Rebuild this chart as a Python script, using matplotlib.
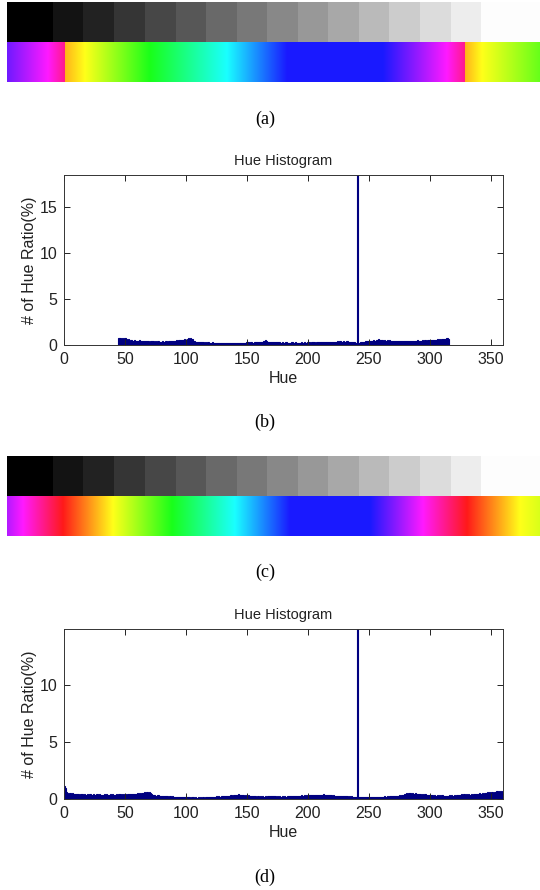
import numpy as np
import matplotlib
matplotlib.use("Agg")
import matplotlib.pyplot as plt
from matplotlib.colors import hsv_to_rgb

W, H = 540, 890

# grey wedge: 16 levels and the block edges (in pixels along the strip)
gray_levels = [0, 19, 34, 53, 71, 87, 105, 120, 136, 152, 168, 186, 204, 220, 237, 253]
gray_edges = [7, 53, 83, 114, 145, 176, 206, 237, 267, 298, 328, 359, 389, 420, 451, 481, 540]

# hue strips: anchor positions (pixels) and hue in degrees
hue_a_x = [7, 48, 64.9, 65, 85, 150, 227, 287, 383, 447, 464.9, 465, 482, 540]
hue_a_deg = [262, 300, 330, 40, 60, 120, 180, 240, 240, 300, 330, 40, 60, 100]
hue_c_x = [7, 23, 63, 113, 172, 235, 290, 370, 423, 467, 520, 540]
hue_c_deg = [280, 300, 360, 420, 480, 540, 600, 600, 660, 720, 780, 790]

# hue histogram (b): bins 45..315 degrees, % of pixels
hist_b_start = 45
hist_b = [
    0.72, 0.80, 0.68, 0.75, 0.62, 0.78, 0.70, 0.55, 0.66, 0.48,
    0.50, 0.44, 0.47, 0.52, 0.42, 0.46, 0.45, 0.49, 0.41, 0.44,
    0.47, 0.43, 0.40, 0.45, 0.42, 0.38, 0.41, 0.44, 0.40, 0.37,
    0.39, 0.36, 0.40, 0.38, 0.35, 0.37, 0.41, 0.36, 0.39, 0.42,
    0.38, 0.44, 0.40, 0.46, 0.43, 0.48, 0.45, 0.50, 0.47, 0.52,
    0.55, 0.50, 0.58, 0.54, 0.62, 0.57, 0.66, 0.72, 0.64, 0.78,
    0.60, 0.45, 0.40, 0.36, 0.33, 0.38, 0.30, 0.32, 0.28, 0.31,
    0.27, 0.30, 0.26, 0.29, 0.25, 0.27, 0.24, 0.28, 0.26, 0.23,
    0.25, 0.27, 0.24, 0.22, 0.26, 0.23, 0.25, 0.21, 0.24, 0.22,
    0.20, 0.23, 0.21, 0.19, 0.22, 0.24, 0.20, 0.23, 0.21, 0.25,
    0.22, 0.26, 0.23, 0.27, 0.24, 0.28, 0.30, 0.26, 0.29, 0.31,
    0.27, 0.30, 0.28, 0.32, 0.29, 0.33, 0.35, 0.30, 0.38, 0.44,
    0.52, 0.40, 0.36, 0.33, 0.37, 0.31, 0.34, 0.30, 0.32, 0.29,
    0.31, 0.28, 0.30, 0.26, 0.29, 0.27, 0.25, 0.28, 0.26, 0.24,
    0.27, 0.25, 0.28, 0.24, 0.26, 0.29, 0.25, 0.27, 0.23, 0.26,
    0.28, 0.25, 0.30, 0.27, 0.24, 0.29, 0.31, 0.26, 0.28, 0.32,
    0.29, 0.27, 0.31, 0.34, 0.28, 0.30, 0.33, 0.29, 0.32, 0.35,
    0.31, 0.34, 0.30, 0.36, 0.33, 0.37, 0.34, 0.38, 0.35, 0.40,
    0.36, 0.39, 0.42, 0.37, 0.41, 0.38, 0.35, 0.39, 0.33, 0.36,
    0.30, 0.34, 0.28, 0.31, 0.25, 0.22, 18.5, 0.20, 0.28, 0.34,
    0.38, 0.35, 0.42, 0.39, 0.45, 0.41, 0.44, 0.40, 0.47, 0.50,
    0.46, 0.52, 0.58, 0.65, 0.55, 0.50, 0.53, 0.48, 0.51, 0.47,
    0.50, 0.46, 0.49, 0.45, 0.48, 0.44, 0.47, 0.43, 0.46, 0.42,
    0.45, 0.41, 0.44, 0.40, 0.43, 0.46, 0.42, 0.45, 0.41, 0.44,
    0.47, 0.43, 0.46, 0.42, 0.45, 0.49, 0.44, 0.48, 0.45, 0.50,
    0.46, 0.51, 0.48, 0.53, 0.49, 0.55, 0.51, 0.57, 0.53, 0.58,
    0.55, 0.60, 0.56, 0.62, 0.58, 0.64, 0.60, 0.70, 0.66, 0.75,
    0.68,
]

# hue histogram (d): bins 0..359 degrees, % of pixels
hist_d_start = 0
hist_d = [
    1.10, 0.95, 0.62, 0.55, 0.48, 0.52, 0.45, 0.50, 0.42, 0.47,
    0.44, 0.40, 0.46, 0.38, 0.43, 0.41, 0.37, 0.45, 0.39, 0.42,
    0.38, 0.44, 0.40, 0.36, 0.42, 0.39, 0.35, 0.41, 0.37, 0.40,
    0.36, 0.39, 0.34, 0.40, 0.37, 0.42, 0.38, 0.35, 0.41, 0.37,
    0.44, 0.39, 0.36, 0.42, 0.38, 0.45, 0.40, 0.37, 0.43, 0.39,
    0.41, 0.38, 0.44, 0.40, 0.46, 0.42, 0.48, 0.44, 0.47, 0.43,
    0.50, 0.46, 0.52, 0.48, 0.55, 0.51, 0.58, 0.54, 0.62, 0.56,
    0.60, 0.52, 0.45, 0.38, 0.34, 0.30, 0.28, 0.31, 0.26, 0.29,
    0.25, 0.27, 0.23, 0.26, 0.22, 0.24, 0.21, 0.23, 0.20, 0.22,
    0.19, 0.21, 0.18, 0.20, 0.17, 0.19, 0.16, 0.18, 0.17, 0.15,
    0.16, 0.14, 0.17, 0.15, 0.13, 0.16, 0.14, 0.12, 0.15, 0.13,
    0.14, 0.12, 0.15, 0.13, 0.14, 0.12, 0.16, 0.14, 0.18, 0.15,
    0.17, 0.19, 0.16, 0.20, 0.18, 0.22, 0.19, 0.23, 0.21, 0.25,
    0.22, 0.26, 0.24, 0.28, 0.25, 0.30, 0.27, 0.32, 0.29, 0.35,
    0.31, 0.38, 0.33, 0.40, 0.35, 0.37, 0.32, 0.36, 0.30, 0.33,
    0.28, 0.31, 0.26, 0.29, 0.24, 0.27, 0.22, 0.25, 0.21, 0.24,
    0.20, 0.23, 0.19, 0.22, 0.20, 0.24, 0.21, 0.25, 0.22, 0.26,
    0.23, 0.27, 0.22, 0.25, 0.21, 0.24, 0.20, 0.23, 0.19, 0.22,
    0.20, 0.24, 0.21, 0.25, 0.22, 0.26, 0.23, 0.27, 0.24, 0.28,
    0.25, 0.29, 0.26, 0.30, 0.27, 0.31, 0.28, 0.32, 0.29, 0.33,
    0.30, 0.34, 0.31, 0.35, 0.32, 0.36, 0.33, 0.37, 0.34, 0.38,
    0.35, 0.39, 0.36, 0.40, 0.37, 0.38, 0.34, 0.36, 0.31, 0.33,
    0.29, 0.31, 0.27, 0.30, 0.26, 0.28, 0.25, 0.27, 0.23, 0.26,
    0.24, 0.22, 0.25, 0.21, 0.23, 0.20, 0.22, 0.19, 0.21, 0.18,
    0.16, 14.9, 0.15, 0.18, 0.16, 0.19, 0.17, 0.20, 0.18, 0.21,
    0.17, 0.20, 0.16, 0.19, 0.15, 0.18, 0.16, 0.19, 0.17, 0.20,
    0.18, 0.21, 0.19, 0.22, 0.20, 0.23, 0.21, 0.24, 0.22, 0.26,
    0.24, 0.28, 0.26, 0.30, 0.28, 0.33, 0.30, 0.36, 0.34, 0.40,
    0.45, 0.52, 0.48, 0.55, 0.50, 0.46, 0.51, 0.44, 0.49, 0.42,
    0.47, 0.40, 0.45, 0.38, 0.43, 0.36, 0.41, 0.34, 0.39, 0.33,
    0.37, 0.31, 0.35, 0.30, 0.34, 0.29, 0.33, 0.28, 0.32, 0.27,
    0.31, 0.26, 0.30, 0.25, 0.29, 0.27, 0.31, 0.28, 0.32, 0.29,
    0.33, 0.30, 0.35, 0.31, 0.37, 0.33, 0.40, 0.35, 0.42, 0.37,
    0.44, 0.38, 0.41, 0.36, 0.43, 0.39, 0.46, 0.40, 0.48, 0.42,
    0.45, 0.50, 0.43, 0.52, 0.47, 0.55, 0.49, 0.58, 0.51, 0.60,
    0.54, 0.62, 0.56, 0.65, 0.58, 0.68, 0.61, 0.70, 0.63, 0.66,
]

x_ticks = [0, 50, 100, 150, 200, 250, 300, 350]
y_ticks_b = [0, 5, 10, 15]
y_ticks_d = [0, 5, 10]
panel_labels = ["(a)", "(b)", "(c)", "(d)"]

BAR = "#000080"
INK = "#222222"
SANS = ["Liberation Sans", "DejaVu Sans"]
SERIF = ["Liberation Serif", "DejaVu Serif"]


def px_axes(fig, left, top, width, height):
    return fig.add_axes([left / W, 1 - (top + height) / H, width / W, height / H])


def draw_strip(fig, top, hx, hdeg):
    ax = px_axes(fig, 7, top, 533, 80)
    # grey row on top
    g = np.array(gray_levels, dtype=float)[None, :] / 255.0
    ax.pcolormesh(gray_edges, [1, 2], g, cmap="gray", vmin=0, vmax=1,
                  shading="flat", edgecolors="none")
    # hue row below
    cols = np.arange(7, 540) + 0.5
    hue = (np.interp(cols, hx, hdeg) % 360) / 360.0
    hsv = np.stack([hue, np.full_like(hue, 0.9), np.ones_like(hue)], axis=-1)
    rgb = hsv_to_rgb(hsv)[None, :, :]
    ax.imshow(rgb, extent=[7, 540, 0, 1], aspect="auto", interpolation="nearest")
    ax.set_xlim(7, 540)
    ax.set_ylim(0, 2)
    ax.axis("off")


def draw_hist(fig, top, start, vals, yticks):
    ax = px_axes(fig, 64, top, 439, 170)
    x = np.arange(start, start + len(vals))
    ax.bar(x, vals, width=1.0, color=BAR, edgecolor=BAR, linewidth=0.8)
    ax.set_xlim(0, 360)
    ax.set_ylim(0, max(vals))
    ax.set_xticks(x_ticks)
    ax.set_yticks(yticks)
    ax.tick_params(direction="in", top=True, right=True, length=4, width=0.7,
                   labelsize=11.5, pad=5, colors=INK)
    for lab in ax.get_xticklabels() + ax.get_yticklabels():
        lab.set_family(SANS)
    for s in ax.spines.values():
        s.set_linewidth(0.7)
        s.set_color("#333333")
    ax.set_title("Hue Histogram", family=SANS, fontsize=10.5, pad=7, color=INK)
    ax.set_xlabel("Hue", family=SANS, fontsize=11.5, labelpad=3, color=INK)
    ax.set_ylabel("# of Hue Ratio(%)", family=SANS, fontsize=11.5, labelpad=2,
                  color=INK)
    return ax


fig = plt.figure(figsize=(W / 100, H / 100), dpi=100)

draw_strip(fig, 2, hue_a_x, hue_a_deg)
draw_hist(fig, 175, hist_b_start, hist_b, y_ticks_b)
draw_strip(fig, 456, hue_c_x, hue_c_deg)
draw_hist(fig, 629, hist_d_start, hist_d, y_ticks_d)

for lab, y in zip(panel_labels, [119, 422, 572, 877]):
    fig.text(265 / W, 1 - y / H, lab, family=SERIF, fontsize=13,
             ha="center", va="center")

fig.savefig("out.png", dpi=100)
